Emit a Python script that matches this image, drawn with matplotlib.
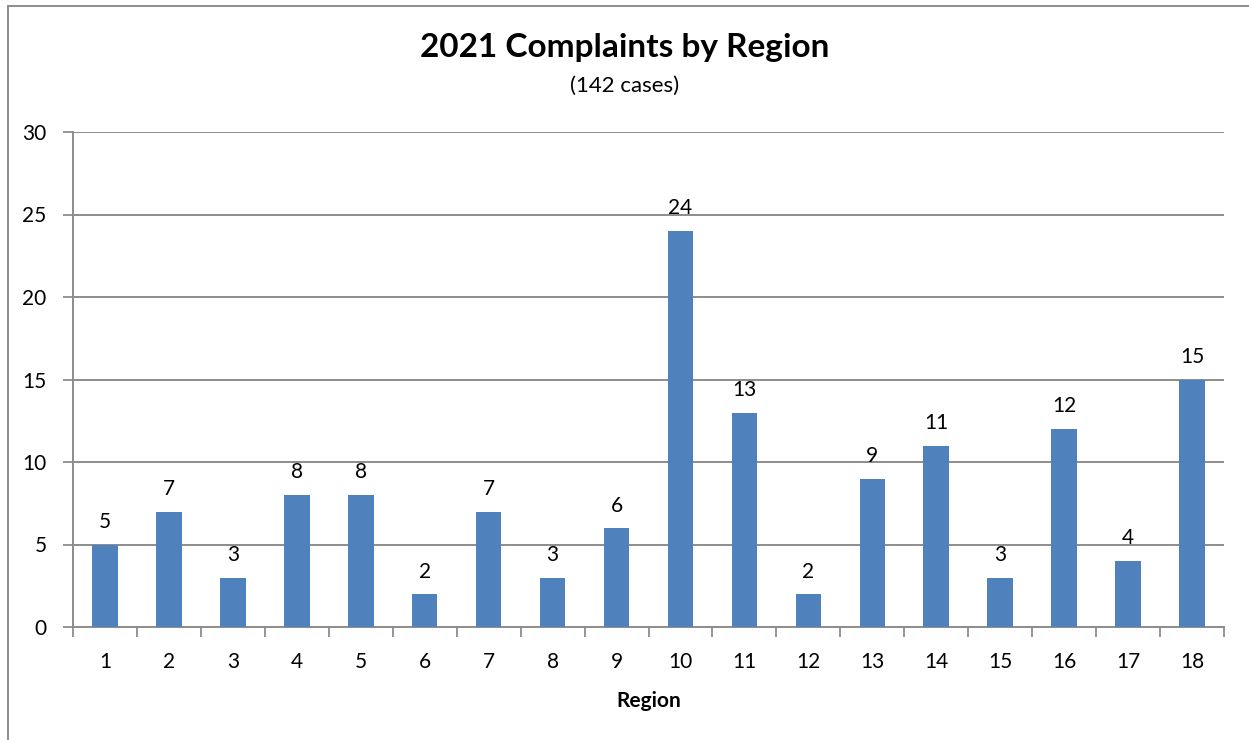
import matplotlib.pyplot as plt
from matplotlib.lines import Line2D

regions = [str(i) for i in range(1, 19)]
complaints = [5, 7, 3, 8, 8, 2, 7, 3, 6, 24, 13, 2, 9, 11, 3, 12, 4, 15]
title = "2021 Complaints by Region"
subtitle = "(142 cases)"

plt.rcParams['font.family'] = ['Lato', 'DejaVu Sans']

fig = plt.figure(figsize=(12.49, 7.40), dpi=100)
ax = fig.add_axes([73 / 1249, 1 - 627 / 740, (1224 - 73) / 1249, (627 - 132) / 740])

grid_col = '#8c8c8c'
x = list(range(len(regions)))
bars = ax.bar(x, complaints, width=0.4, color='#4f81bd', zorder=3)

for xi, v in zip(x, complaints):
    ax.annotate(str(v), (xi, v), xytext=(0, 9), textcoords='offset points',
                ha='center', va='bottom', fontsize=15)

ax.set_xlim(-0.5, len(regions) - 0.5)
ax.set_ylim(0, 30)
ax.set_yticks(range(0, 31, 5))
ax.tick_params(axis='y', labelsize=15, length=7, width=1.3, color=grid_col, pad=12)
ax.yaxis.grid(True, color=grid_col, linewidth=1.4, zorder=0)

# category labels centred, ticks between categories
ax.set_xticks(x)
ax.set_xticklabels(regions, fontsize=15)
ax.tick_params(axis='x', length=0, pad=18)
ax.set_xticks([i - 0.5 for i in range(len(regions) + 1)], minor=True)
ax.tick_params(axis='x', which='minor', length=7, width=1.3, color=grid_col)

for side in ['top', 'right']:
    ax.spines[side].set_visible(False)
for side in ['left', 'bottom']:
    ax.spines[side].set_color(grid_col)
    ax.spines[side].set_linewidth(1.4)

ax.set_xlabel('Region', fontsize=15, fontweight='bold', labelpad=14)

fig.text(0.5, 1 - 47 / 740, title, ha='center', va='center', fontsize=24, fontweight='bold')
fig.text(0.5, 1 - 86 / 740, subtitle, ha='center', va='center', fontsize=16)

# outer chart-area border (left and top visible)
fig.add_artist(Line2D([8 / 1249, 8 / 1249], [0, 1 - 6 / 740], transform=fig.transFigure,
                      color=grid_col, linewidth=1.4))
fig.add_artist(Line2D([8 / 1249, 1], [1 - 6 / 740, 1 - 6 / 740], transform=fig.transFigure,
                      color=grid_col, linewidth=1.4))

fig.savefig('out.png', dpi=100)
